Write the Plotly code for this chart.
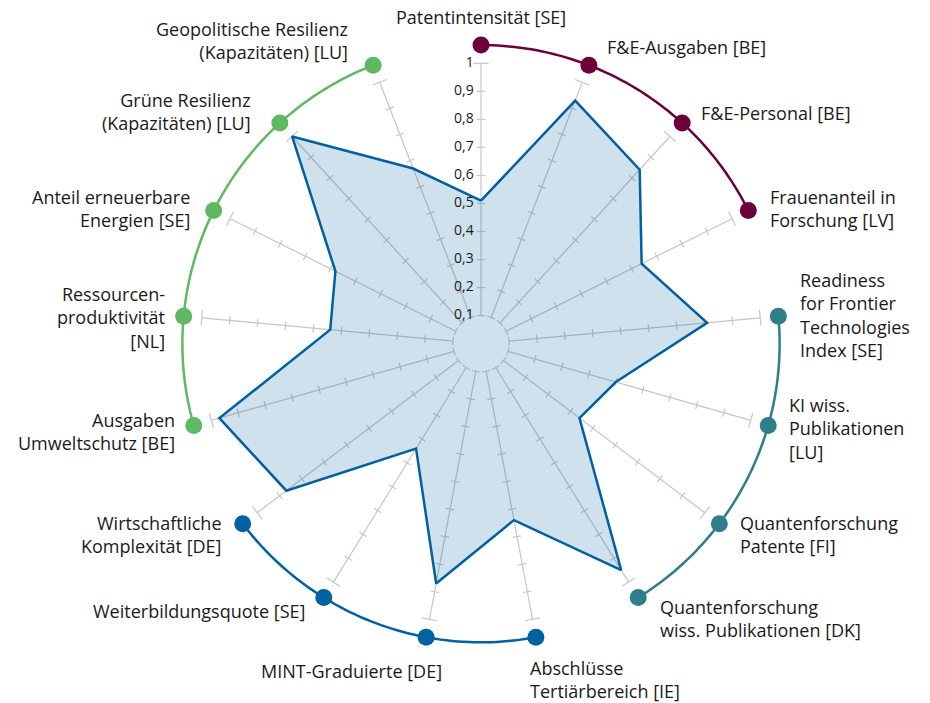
import numpy as np
import plotly.graph_objects as go

# Indicator names (clockwise from top) and normalised scores
indicators = [
    "Patentintensität [SE]",
    "F&E-Ausgaben [BE]",
    "F&E-Personal [BE]",
    "Frauenanteil in<br>Forschung [LV]",
    "Readiness<br>for Frontier<br>Technologies<br>Index [SE]",
    "KI wiss.<br>Publikationen<br>[LU]",
    "Quantenforschung<br>Patente [FI]",
    "Quantenforschung<br>wiss. Publikationen [DK]",
    "Abschlüsse<br>Tertiärbereich [IE]",
    "MINT-Graduierte [DE]",
    "Weiterbildungsquote [SE]",
    "Wirtschaftliche<br>Komplexität [DE]",
    "Ausgaben<br>Umweltschutz [BE]",
    "Ressourcen-<br>produktivität<br>[NL]",
    "Anteil erneuerbare<br>Energien [SE]",
    "Grüne Resilienz<br>(Kapazitäten) [LU]",
    "Geopolitische Resilienz<br>(Kapazitäten) [LU]",
]
values = [0.51, 0.93, 0.84, 0.64, 0.81, 0.50, 0.44, 0.95, 0.64,
          0.87, 0.44, 0.87, 0.97, 0.54, 0.58, 1.00, 0.67]
group_sizes = [4, 4, 4, 5]
group_colors = ["#6c0039", "#2e7f89", "#0062a1", "#5fb862"]
tick_values = [0.1, 0.2, 0.3, 0.4, 0.5, 0.6, 0.7, 0.8, 0.9, 1.0]
tick_labels = ["0,1", "0,2", "0,3", "0,4", "0,5", "0,6", "0,7", "0,8", "0,9", "1"]

W, H = 930, 703
CX, CY = 481.0, 343.7      # centre in px
UNIT = 280.4               # px per 1.0
R_MAX = 1.1
R_DOT = 1.065
FONT = "Open Sans"
GREY = "#c6c6c6"

n = len(values)
theta = [i * 360.0 / n for i in range(n)]

fig = go.Figure()

# spokes (under the fill)
sp_r, sp_t = [], []
for t in theta:
    sp_r += [0.1, 1.0, None]
    sp_t += [t, t, None]
fig.add_trace(go.Scatterpolar(r=sp_r, theta=sp_t, mode="lines",
                              line=dict(color=GREY, width=1.2),
                              hoverinfo="skip", showlegend=False))
tk_r, tk_t = [], []
for t in theta:
    for v in tick_values[:-1]:
        tk_r.append(v)
        tk_t.append(t)
fig.add_trace(go.Scatterpolar(r=tk_r, theta=tk_t, mode="markers",
                              marker=dict(symbol="line-ew", size=6, angle=tk_t,
                                          line=dict(color=GREY, width=1.2)),
                              hoverinfo="skip", showlegend=False))
fig.add_trace(go.Scatterpolar(r=[1.0] * n, theta=theta, mode="markers",
                              marker=dict(symbol="line-ew", size=11, angle=theta,
                                          line=dict(color=GREY, width=1.2)),
                              hoverinfo="skip", showlegend=False))

# score polygon
fig.add_trace(go.Scatterpolar(r=values + values[:1], theta=theta + theta[:1],
                              mode="lines", fill="toself",
                              fillcolor="rgba(0,97,161,0.19)",
                              line=dict(color="#0061a0", width=2.5),
                              showlegend=False))

# radial tick labels along the top spoke
fig.add_trace(go.Scatterpolar(r=tick_values, theta=[0] * len(tick_values),
                              mode="markers+text", text=tick_labels,
                              textposition="middle left",
                              marker=dict(size=10, opacity=0),
                              textfont=dict(family=FONT, size=14, color="#1a1a1a"),
                              hoverinfo="skip", showlegend=False))

# group arcs + dots
start = 0
for size, col in zip(group_sizes, group_colors):
    g_t = theta[start:start + size]
    arc_t = np.linspace(g_t[0], g_t[-1], 60)
    fig.add_trace(go.Scatterpolar(r=[R_DOT] * len(arc_t), theta=arc_t, mode="lines",
                                  line=dict(color=col, width=2.5),
                                  hoverinfo="skip", showlegend=False))
    fig.add_trace(go.Scatterpolar(r=[R_DOT] * size, theta=g_t, mode="markers",
                                  marker=dict(color=col, size=17),
                                  showlegend=False))
    start += size

# label placement relative to the dot: anchor, dx, dy (px, screen down)
placement = [
    ("center", 0, -28), ("left", 17, -18), ("left", 18, -10), ("left", 21, -2),
    ("left", 21, -1), ("left", 20, 3), ("left", 20, 11), ("left", 21, 21),
    ("left", -7, 42), ("right", 17, 34), ("right", -18, 13), ("right", -20, 11),
    ("right", -18, 6), ("right", -18, 1), ("right", -23, -2), ("right", -28, -12),
    ("right", -24, -25),
]
for t, txt, (anc, dx, dy) in zip(theta, indicators, placement):
    a = np.radians(t)
    px = CX + R_DOT * UNIT * np.sin(a)
    py = CY - R_DOT * UNIT * np.cos(a)
    fig.add_annotation(x=px / W, y=1 - py / H, xref="paper", yref="paper",
                       text=txt, showarrow=False, xanchor=anc, yanchor="middle",
                       align=anc, xshift=dx, yshift=-dy, borderpad=0,
                       font=dict(family=FONT, size=18, color="#1a1a1a"))

half = R_MAX * UNIT
fig.update_layout(
    width=W, height=H,
    margin=dict(l=0, r=0, t=0, b=0),
    paper_bgcolor="white",
    font=dict(family=FONT),
    polar=dict(
        domain=dict(x=[(CX - half) / W, (CX + half) / W],
                    y=[1 - (CY + half) / H, 1 - (CY - half) / H]),
        bgcolor="rgba(0,0,0,0)",
        angularaxis=dict(direction="clockwise", rotation=90, showgrid=False,
                         showline=False, showticklabels=False, ticks=""),
        radialaxis=dict(range=[0, R_MAX], showgrid=False, showline=False,
                        showticklabels=False, ticks=""),
    ),
)

fig.write_html("out.html", config={"displayModeBar": False},
               post_script="document.body.style.margin='0';")
